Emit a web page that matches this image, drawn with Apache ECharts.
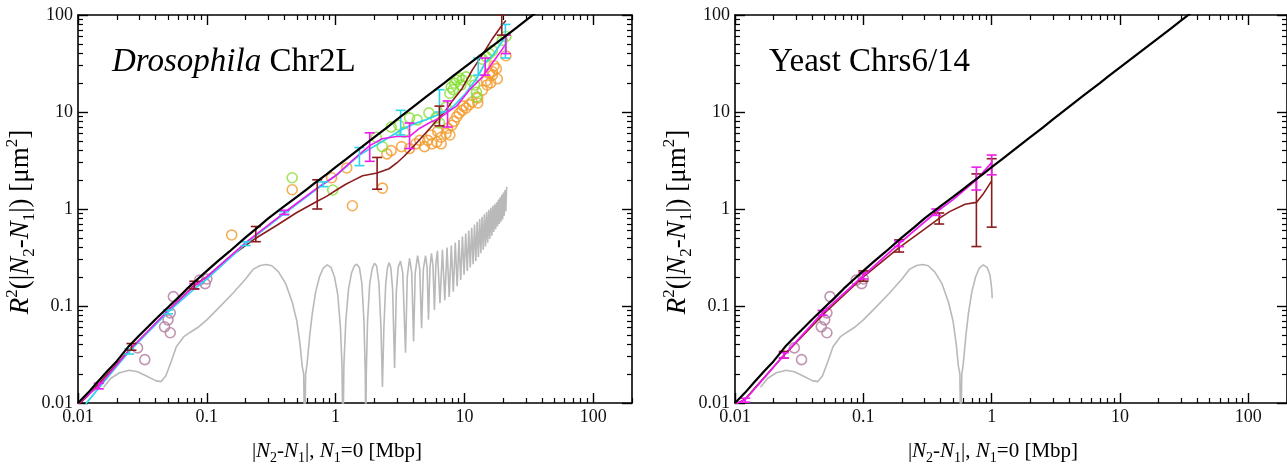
<!DOCTYPE html>
<html>
<head>
<meta charset="utf-8">
<script src="https://cdn.jsdelivr.net/npm/echarts@6/dist/echarts.min.js"></script>
<style>
  html, body { margin: 0; padding: 0; background: #fff; }
  #chart { width: 1287px; height: 471px; }
</style>
</head>
<body>
<div id="chart"></div>
<script>
// ---------- axis ticks ----------
const majorTicks = [0.01, 0.1, 1, 10, 100];
const tickLabels = ['0.01', '0.1', '1', '10', '100'];
const minorTicks = [];
[0.01, 0.1, 1, 10, 100].forEach(d => { for (let k = 2; k <= 9; k++) minorTicks.push(+(d * k).toPrecision(3)); });

// ---------- model curve (both panels) ----------
const modelCurve = [
  [0.01, 0.01], [0.012, 0.0128], [0.014, 0.0162], [0.017, 0.0215], [0.02, 0.027], [0.025, 0.039],
  [0.03, 0.05], [0.035, 0.061], [0.04, 0.073], [0.05, 0.097], [0.06, 0.122], [0.07, 0.15],
  [0.085, 0.19], [0.1, 0.23], [0.12, 0.285], [0.15, 0.365], [0.2, 0.51], [0.25, 0.65],
  [0.3, 0.8], [0.4, 1.07], [0.5, 1.33], [0.6, 1.6], [0.7, 1.88], [0.85, 2.28], [1, 2.7],
  [1.2, 3.25], [1.5, 4.1], [2, 5.5], [2.5, 6.9], [3, 8.4], [4, 11.3], [5, 14.2], [6, 17.1],
  [7, 20], [8, 23], [10, 28.8], [12, 34.6], [15, 43.4], [20, 58], [25, 73], [30, 88], [40, 118]
];

// ---------- grey oscillating curve ----------
const greyCurve = [
  [0.0158, 0.0145], [0.018, 0.018], [0.021, 0.0205], [0.025, 0.0218], [0.029, 0.021], [0.034, 0.019],
  [0.04, 0.017], [0.044, 0.0166], [0.048, 0.019], [0.053, 0.027], [0.058, 0.038], [0.066, 0.048],
  [0.075, 0.054], [0.085, 0.06], [0.1, 0.072], [0.126, 0.098], [0.16, 0.136], [0.2, 0.19],
  [0.23, 0.24], [0.26, 0.262], [0.29, 0.268], [0.32, 0.26], [0.36, 0.225], [0.41, 0.17],
  [0.46, 0.11], [0.5, 0.07], [0.53, 0.04], [0.55, 0.024], [0.565, 0.02], [0.575, 0.004],
  [0.585, 0.02], [0.6, 0.025], [0.63, 0.05], [0.66, 0.085], [0.7, 0.14], [0.75, 0.2],
  [0.8, 0.245], [0.86, 0.265], [0.92, 0.25], [0.98, 0.2], [1.04, 0.13], [1.09, 0.06],
  [1.12, 0.025], [1.14, 0.004], [1.16, 0.025], [1.2, 0.07], [1.26, 0.15], [1.33, 0.22],
  [1.4, 0.26], [1.46, 0.27], [1.53, 0.25], [1.6, 0.17], [1.66, 0.07], [1.7, 0.02], [1.715, 0.004],
  [1.73, 0.02], [1.77, 0.07], [1.84, 0.17], [1.92, 0.24], [2.0, 0.275], [2.08, 0.26], [2.17, 0.17],
  [2.25, 0.06], [2.31, 0.0146], [2.37, 0.06], [2.45, 0.17], [2.53, 0.25], [2.6, 0.28], [2.68, 0.25],
  [2.77, 0.15], [2.87, 0.023], [2.96, 0.14], [3.06, 0.25], [3.19, 0.29], [3.32, 0.22], [3.49, 0.033],
  [3.6, 0.2], [3.75, 0.31], [3.9, 0.22], [4.03, 0.043], [4.15, 0.22], [4.33, 0.33], [4.5, 0.24],
  [4.65, 0.059], [4.8, 0.24], [4.99, 0.33], [5.13, 0.25], [5.26, 0.072], [5.4, 0.25], [5.55, 0.35],
  [5.7, 0.26], [5.85, 0.091], [6.0, 0.27], [6.17, 0.37], [6.46, 0.107], [6.75, 0.38], [7.04, 0.115],
  [7.33, 0.4], [7.62, 0.124], [7.91, 0.42], [8.2, 0.14], [8.49, 0.45], [8.78, 0.16], [9.07, 0.48],
  [9.36, 0.185], [9.65, 0.52], [9.94, 0.21], [10.23, 0.56], [10.52, 0.23], [10.81, 0.6], [11.1, 0.25],
  [11.39, 0.64], [11.68, 0.27], [11.97, 0.69], [12.26, 0.29], [12.55, 0.74], [12.84, 0.32],
  [13.13, 0.79], [13.42, 0.35], [13.71, 0.83], [14.0, 0.38], [14.29, 0.88], [14.58, 0.41],
  [14.87, 0.93], [15.16, 0.45], [15.45, 0.98], [15.74, 0.49], [16.03, 1.03], [16.32, 0.53],
  [16.61, 1.08], [16.9, 0.58], [17.19, 1.12], [17.48, 0.62], [17.77, 1.17], [18.06, 0.66],
  [18.35, 1.25], [18.64, 0.7], [18.93, 1.32], [19.22, 0.74], [19.51, 1.4], [19.8, 0.78],
  [20.09, 1.48], [20.38, 0.85], [20.67, 1.57], [20.96, 0.95], [21.25, 1.65], [21.5, 1.69]
];
const greyTailYeast = [[0.97, 0.21], [1.0, 0.15], [1.01, 0.12]];

// ---------- Drosophila Chr2L ----------
const flyMaroon = [
  [0.01, 0.0095], [0.012, 0.012], [0.026, 0.037], [0.05, 0.088], [0.08, 0.165], [0.1, 0.2],
  [0.15, 0.32], [0.24, 0.5], [0.35, 0.68], [0.5, 0.92], [0.72, 1.2], [0.85, 1.35], [1.0, 1.55],
  [1.2, 1.8], [1.35, 1.95], [1.62, 2.2], [2.1, 2.35], [2.6, 2.6], [3.0, 3.0], [3.4, 3.5],
  [3.75, 4.0], [4.5, 5.2], [5.4, 6.8], [6.4, 8.8], [7.2, 10.5], [8.0, 12.8], [9.6, 17.5],
  [11.5, 27], [13.8, 39], [16.5, 57], [19.5, 78], [21, 88]
];
const flyMaroonErr = [
  [0.026, 0.035, 0.041], [0.08, 0.15, 0.18], [0.24, 0.46, 0.66], [0.72, 1.0, 2.0],
  [2.1, 1.6, 3.4], [6.4, 7.2, 11.5], [19.5, 62, 100]
];
const flyMagenta = [
  [0.01, 0.0098], [0.0145, 0.015], [0.025, 0.035], [0.05, 0.09], [0.08, 0.16], [0.1, 0.2],
  [0.2, 0.45], [0.4, 0.92], [0.7, 1.6], [1.0, 2.2], [1.4, 3.3], [1.84, 4.5], [2.3, 5.3],
  [2.97, 5.6], [3.75, 5.6], [4.5, 6.8], [5.4, 7.8], [6.4, 8.6], [7.4, 10], [8.7, 11.5],
  [10.9, 16.8], [13.8, 23], [16.5, 32], [19.8, 45], [21, 50]
];
const flyMagentaErr = [
  [0.0145, 0.014, 0.016], [0.08, 0.15, 0.17], [0.4, 0.88, 0.97], [1.84, 3.1, 6.1],
  [3.75, 4.2, 7.7], [7.4, 7.0, 13], [14.5, 24, 36], [21, 40, 62]
];
const flyCyan = [
  [0.0115, 0.0098], [0.014, 0.0135], [0.02, 0.024], [0.025, 0.034], [0.05, 0.087], [0.08, 0.15],
  [0.1, 0.19], [0.2, 0.44], [0.4, 0.9], [0.8, 1.8], [1.0, 2.2], [1.53, 3.6], [2.2, 4.8],
  [3.2, 6.5], [4.0, 7.5], [5.0, 8.3], [6.4, 9.5], [8, 11], [10, 15], [12.4, 22], [14.5, 32],
  [17, 40], [20.8, 60]
];
const flyCyanErr = [
  [0.025, 0.032, 0.036], [0.05, 0.083, 0.091], [0.2, 0.42, 0.46], [0.4, 0.87, 0.94],
  [0.8, 1.7, 1.9], [1.53, 2.8, 4.3], [3.2, 5.8, 10.4], [6.4, 10, 17], [12.8, 24, 36], [20.8, 36, 80]
];
const flyOrange = [
  [0.156, 0.54], [0.46, 1.58], [0.93, 2.1], [1.35, 1.08], [2.31, 1.64], [1.22, 2.65], [2.5, 3.7],
  [2.7, 4.0], [3.25, 4.4], [3.75, 4.2], [4.2, 4.7], [4.5, 5.1], [4.9, 4.4], [5.2, 5.1], [5.5, 5.8],
  [5.6, 4.7], [6.1, 4.9], [6.2, 6.3], [6.6, 4.7], [6.6, 5.5], [7.2, 6.0], [7.7, 5.8], [7.4, 6.8],
  [8.0, 7.3], [8.3, 8.0], [8.7, 8.9], [9.1, 9.7], [9.6, 10.4], [9.8, 11.5], [10.3, 11], [10.9, 11.9],
  [11.5, 12.7], [12.7, 12.4], [12.7, 14], [13.8, 16.8], [14.8, 21], [15, 19], [15.6, 25], [16, 20],
  [16.5, 26], [16.5, 24], [17, 30], [17.7, 28], [18, 22], [21, 38]
];
const flyGreen = [
  [0.46, 2.1], [0.95, 1.57], [2.07, 5.5], [2.3, 4.4], [2.7, 7.0], [3.1, 7.3], [3.4, 6.2],
  [3.75, 8.7], [4.3, 8.3], [5.3, 9.8], [6.0, 8.7], [6.4, 7.7], [7.2, 11.2], [7.7, 15.6],
  [7.9, 18], [8.2, 17], [8.4, 19.8], [8.7, 21.4], [9.1, 22.4], [9.4, 19], [9.6, 21.4],
  [10.3, 23], [11.4, 21], [12, 19], [12.4, 14.3], [12.4, 16], [13.8, 35], [14.8, 37],
  [15.6, 40], [16.5, 43], [19.7, 55], [21, 60]
];
const loopCircles = [
  [0.029, 0.037], [0.033, 0.028], [0.047, 0.061], [0.05, 0.072], [0.052, 0.053], [0.052, 0.085],
  [0.055, 0.125], [0.088, 0.185], [0.097, 0.17], [0.1, 0.19]
];

// ---------- Yeast Chrs6/14 ----------
const yeastMaroon = [
  [0.01, 0.0095], [0.012, 0.011], [0.024, 0.031], [0.05, 0.085], [0.1, 0.2], [0.19, 0.4],
  [0.3, 0.62], [0.39, 0.8], [0.47, 0.94], [0.62, 1.12], [0.76, 1.17], [0.85, 1.4], [1.0, 1.95]
];
const yeastMaroonErr = [
  [0.024, 0.029, 0.034], [0.1, 0.18, 0.23], [0.19, 0.36, 0.48], [0.39, 0.7, 0.91],
  [0.76, 0.41, 2.3], [1.0, 0.65, 3.3]
];
const yeastMagenta = [
  [0.01, 0.0098], [0.012, 0.0108], [0.024, 0.031], [0.048, 0.085], [0.1, 0.205], [0.19, 0.44],
  [0.37, 0.93], [0.5, 1.25], [0.76, 2.0], [1.0, 3.0]
];
const yeastMagentaErr = [
  [0.012, 0.0102, 0.0112], [0.024, 0.029, 0.033], [0.048, 0.08, 0.09], [0.1, 0.19, 0.22],
  [0.19, 0.41, 0.47], [0.37, 0.86, 1.0], [0.76, 1.57, 2.7], [1.0, 2.25, 3.6]
];

// ---------- styling ----------
const FONT = '"Liberation Serif", "DejaVu Serif", serif';
const C = {
  model: '#000000', grey: '#b9b9b9', maroon: '#8a1c1c', magenta: '#ee1cee',
  cyan: '#2fd4ec', orange: '#f39a2a', green: '#86e034', loop: '#b07a9e'
};
const X_RANGE = [0.01, 200];
const Y_RANGE = [0.01, 100];

function nameRich(size, small, lh) {
  return {
    i: { fontStyle: 'italic', fontSize: size, lineHeight: lh, fontFamily: FONT, color: '#000' },
    sb: { fontSize: small, lineHeight: small, verticalAlign: 'bottom', fontFamily: FONT, color: '#000' },
    sp: { fontSize: small, lineHeight: small, verticalAlign: 'top', fontFamily: FONT, color: '#000' }
  };
}

function axisSet(dim, gridIndex) {
  const range = dim === 'x' ? X_RANGE : Y_RANGE;
  const sides = dim === 'x' ? ['bottom', 'top'] : ['left', 'right'];
  const line = { show: true, lineStyle: { color: '#000', width: 1.6 } };
  const base = { type: 'log', logBase: 10, gridIndex, min: range[0], max: range[1], splitLine: { show: false }, silent: true };
  const out = [];
  sides.forEach((pos, si) => {
    const major = Object.assign({}, base, {
      position: pos,
      axisLine: line,
      axisTick: { show: true, inside: true, length: 10, customValues: majorTicks, lineStyle: { color: '#000', width: 1.4 } },
      axisLabel: si === 0 ? {
        show: true, customValues: majorTicks, margin: 5, fontSize: 18, fontFamily: FONT, color: '#111',
        formatter: v => tickLabels[majorTicks.findIndex(t => Math.abs(Math.log10(t) - Math.log10(v)) < 1e-6)] || ''
      } : { show: false }
    });
    if (si === 0) {
      if (dim === 'x') {
        major.name = '|{i|N}{sb|2}-{i|N}{sb|1}|, {i|N}{sb|1}=0 [Mbp]';
        major.nameLocation = 'middle';
        major.nameGap = 34;
        major.nameTextStyle = { fontSize: 21, lineHeight: 28, fontFamily: FONT, color: '#000', rich: nameRich(21, 14, 28), padding: [0, 36, 0, 0] };
      } else {
        major.name = '{i|R}{sp|2}(|{i|N}{sb|2}-{i|N}{sb|1}|) [μm{sp|2}]';
        major.nameLocation = 'middle';
        major.nameGap = 33;
        major.nameRotate = 90;
        major.nameTextStyle = { fontSize: 27, lineHeight: 34, fontFamily: FONT, color: '#000', rich: nameRich(27, 17, 34), padding: [0, 26, 0, 0] };
      }
    }
    const minor = Object.assign({}, base, {
      position: pos,
      axisLine: { show: false },
      axisTick: { show: true, inside: true, length: 5, customValues: minorTicks, lineStyle: { color: '#000', width: 1.2 } },
      axisLabel: { show: false }
    });
    out.push(major, minor);
  });
  return out;
}

function lineSeries(data, color, width, xi, yi, z) {
  return { type: 'line', data, xAxisIndex: xi, yAxisIndex: yi, showSymbol: false, symbol: 'none',
    lineStyle: { color, width }, z, clip: true, silent: true };
}
function ringSeries(data, color, xi, yi) {
  return { type: 'scatter', data, xAxisIndex: xi, yAxisIndex: yi, symbol: 'circle', symbolSize: 10,
    itemStyle: { color: 'rgba(0,0,0,0)', borderColor: color, borderWidth: 1.6 }, z: 3, silent: true };
}
function errSeries(data, color, xi, yi) {
  return {
    type: 'custom', data, xAxisIndex: xi, yAxisIndex: yi, z: 6, silent: true, clip: true,
    encode: { x: 0, y: [1, 2] },
    renderItem: (params, api) => {
      const x = api.value(0);
      const lo = api.coord([x, api.value(1)]);
      const hi = api.coord([x, api.value(2)]);
      const cw = 5;
      const st = { stroke: color, lineWidth: 1.6 };
      return { type: 'group', children: [
        { type: 'line', shape: { x1: lo[0], y1: lo[1], x2: hi[0], y2: hi[1] }, style: st },
        { type: 'line', shape: { x1: lo[0] - cw, y1: lo[1], x2: lo[0] + cw, y2: lo[1] }, style: st },
        { type: 'line', shape: { x1: hi[0] - cw, y1: hi[1], x2: hi[0] + cw, y2: hi[1] }, style: st }
      ] };
    }
  };
}

// axis indices: grid 0 -> x 0..3, y 0..3 ; grid 1 -> x 4..7, y 4..7
const xAxes = axisSet('x', 0).concat(axisSet('x', 1));
const yAxes = axisSet('y', 0).concat(axisSet('y', 1));

const greyYeast = greyCurve.filter(p => p[0] <= 0.92).concat(greyTailYeast);

const series = [
  // Drosophila panel
  lineSeries(greyCurve, C.grey, 1.6, 0, 0, 1),
  ringSeries(loopCircles, C.loop, 0, 0),
  ringSeries(flyOrange, C.orange, 0, 0),
  ringSeries(flyGreen, C.green, 0, 0),
  lineSeries(flyMaroon, C.maroon, 1.6, 0, 0, 4),
  lineSeries(flyCyan, C.cyan, 1.8, 0, 0, 4),
  lineSeries(flyMagenta, C.magenta, 1.6, 0, 0, 4),
  errSeries(flyCyanErr, C.cyan, 0, 0),
  errSeries(flyMagentaErr, C.magenta, 0, 0),
  errSeries(flyMaroonErr, C.maroon, 0, 0),
  lineSeries(modelCurve, C.model, 2.2, 0, 0, 7),
  // Yeast panel
  lineSeries(greyYeast, C.grey, 1.6, 4, 4, 1),
  ringSeries(loopCircles, C.loop, 4, 4),
  lineSeries(yeastMaroon, C.maroon, 1.6, 4, 4, 4),
  lineSeries(yeastMagenta, C.magenta, 1.8, 4, 4, 4),
  errSeries(yeastMaroonErr, C.maroon, 4, 4),
  errSeries(yeastMagentaErr, C.magenta, 4, 4),
  lineSeries(modelCurve, C.model, 2.2, 4, 4, 7)
];

const chart = echarts.init(document.getElementById('chart'), null, { renderer: 'canvas' });
chart.setOption({
  animation: false,
  backgroundColor: '#fff',
  title: [
    { text: '{i|Drosophila} Chr2L', left: 107, top: 41,
      textStyle: { fontSize: 33, fontFamily: FONT, fontWeight: 'normal', color: '#000',
        rich: { i: { fontStyle: 'italic', fontSize: 33, fontFamily: FONT, color: '#000' } } } },
    { text: 'Yeast Chrs6/14', left: 764, top: 41,
      textStyle: { fontSize: 33, fontFamily: FONT, fontWeight: 'normal', color: '#000' } }
  ],
  grid: [
    { left: 78, top: 15, width: 554, height: 388, containLabel: false },
    { left: 735, top: 15, width: 555, height: 388, containLabel: false }
  ],
  xAxis: xAxes,
  yAxis: yAxes,
  series
});
</script>
</body>
</html>
